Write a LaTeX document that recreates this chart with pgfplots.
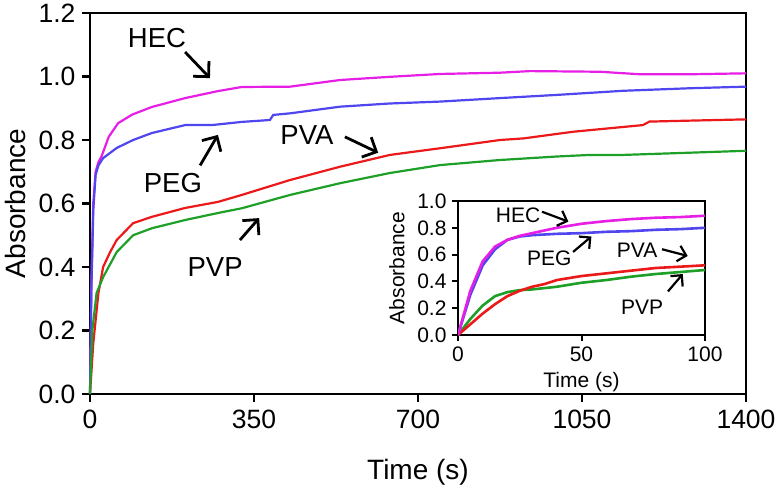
\documentclass[border=0pt]{standalone}
\usepackage{fontspec}
\setmainfont{Liberation Sans}
\usepackage{pgfplots}
\usepackage{pgfplotstable}
\pgfplotsset{compat=1.18}
\usetikzlibrary{arrows.meta}
\definecolor{hec}{RGB}{230,30,230}
\definecolor{peg}{RGB}{80,70,240}
\definecolor{pva}{RGB}{235,25,25}
\definecolor{pvp}{RGB}{30,160,40}

% main plot (0-1400 s)
\pgfplotstableread{
t v
0 0
3 0.35
7 0.60
12 0.70
18 0.73
25 0.75
40 0.81
60 0.853
90 0.88
132 0.904
203 0.932
273 0.954
324 0.967
427 0.968
534 0.989
640 0.999
747 1.008
875 1.012
939 1.017
1088 1.015
1174 1.007
1280 1.007
1400 1.01
}\hecM

\pgfplotstableread{
t v
0 0
3 0.33
7 0.58
12 0.69
18 0.72
28 0.743
57 0.775
92 0.80
132 0.822
203 0.847
260 0.847
324 0.857
384 0.863
391 0.879
427 0.884
534 0.905
640 0.915
747 0.921
875 0.932
996 0.942
1138 0.955
1280 0.963
1400 0.968
}\pegM

\pgfplotstableread{
t v
0 0
7 0.16
18 0.318
28 0.40
43 0.447
57 0.485
92 0.538
132 0.558
203 0.586
273 0.605
324 0.627
427 0.674
534 0.716
640 0.753
747 0.774
875 0.80
925 0.805
1031 0.826
1180 0.847
1194 0.858
1280 0.861
1400 0.865
}\pvaM

\pgfplotstableread{
t v
0 0
5 0.20
14 0.318
28 0.368
57 0.447
92 0.50
132 0.522
203 0.548
273 0.57
324 0.585
427 0.627
534 0.664
640 0.696
747 0.721
875 0.737
996 0.748
1067 0.753
1138 0.753
1280 0.76
1400 0.766
}\pvpM

% inset (0-100 s)
\pgfplotstableread{
t v
0 0
5 0.33
10 0.55
15 0.66
20 0.71
25 0.74
30 0.76
40 0.80
50 0.83
60 0.85
70 0.865
80 0.875
90 0.88
100 0.89
}\hecI

\pgfplotstableread{
t v
0 0
5 0.30
10 0.52
15 0.64
20 0.71
25 0.735
30 0.745
40 0.755
50 0.76
60 0.77
70 0.775
80 0.785
90 0.79
100 0.80
}\pegI

\pgfplotstableread{
t v
0 0
5 0.08
10 0.16
15 0.23
20 0.29
25 0.33
30 0.36
35 0.38
40 0.41
50 0.44
60 0.46
70 0.48
80 0.50
90 0.51
100 0.52
}\pvaI

\pgfplotstableread{
t v
0 0
5 0.12
10 0.22
15 0.29
20 0.32
25 0.335
30 0.34
40 0.36
50 0.39
60 0.41
70 0.435
80 0.455
90 0.47
100 0.485
}\pvpI

\begin{document}
\begin{tikzpicture}[x=1pt,y=1pt]
\useasboundingbox (-90,-94) rectangle (687,394);
\begin{axis}[
  at={(0pt,0pt)}, anchor=south west,
  scale only axis, width=656pt, height=381pt,
  xmin=0, xmax=1400, ymin=0, ymax=1.2,
  xtick={0,350,700,1050,1400},
  ytick={0,0.2,0.4,0.6,0.8,1.0,1.2},
  xticklabel style={/pgf/number format/set thousands separator={}},
  yticklabel style={/pgf/number format/fixed,/pgf/number format/fixed zerofill,/pgf/number format/precision=1},
  /pgf/number format/assume math mode=true,
  xtick pos=left, ytick pos=left,
  tick align=outside,
  major tick length=8pt,
  every tick/.style={black,line width=2.5pt},
  axis line style={line width=2.8pt},
  ticklabel style={font=\fontsize{26.5}{30}\selectfont},
  label style={font=\fontsize{28}{32}\selectfont},
  xlabel={Time (s)}, ylabel={Absorbance},
  xlabel style={at={(axis description cs:0.5,0)}, anchor=center, yshift=-78pt},
  ylabel style={at={(axis description cs:-0.113,0.5)}, anchor=center, inner sep=0pt},
  x tick label style={yshift=-4pt},
  y tick label style={xshift=-3pt},
  clip=false,
]
\addplot[hec, line width=2.2pt] table[x=t,y=v] {\hecM};
\addplot[peg, line width=2.2pt] table[x=t,y=v] {\pegM};
\addplot[pva, line width=2.2pt] table[x=t,y=v] {\pvaM};
\addplot[pvp, line width=2.2pt] table[x=t,y=v] {\pvpM};
\begin{scope}[font=\fontsize{27.5}{30}\selectfont]
\node at (axis cs:143,1.12) {HEC};
\node at (axis cs:177,0.665) {PEG};
\node at (axis cs:463,0.816) {PVA};
\node at (axis cs:267,0.40) {PVP};
\end{scope}
\begin{scope}[line width=2.8pt, -{Straight Barb[length=11pt,width=22pt,line width=2.8pt]}]
\draw (axis cs:203,1.077) -- (axis cs:256,0.995);
\draw (axis cs:235,0.72) -- (axis cs:273,0.816);
\draw (axis cs:544,0.81) -- (axis cs:615,0.76);
\draw (axis cs:320,0.485) -- (axis cs:361,0.554);
\end{scope}
\end{axis}
\begin{axis}[
  at={(368pt,59pt)}, anchor=south west,
  scale only axis, width=247pt, height=134pt,
  xmin=0, xmax=100, ymin=0, ymax=1.0,
  xtick={0,50,100},
  ytick={0,0.2,0.4,0.6,0.8,1.0},
  yticklabel style={/pgf/number format/fixed,/pgf/number format/fixed zerofill,/pgf/number format/precision=1},
  /pgf/number format/assume math mode=true,
  xtick pos=left, ytick pos=left,
  tick align=outside,
  major tick length=6pt,
  every tick/.style={black,line width=2pt},
  axis line style={line width=2.2pt},
  axis background/.style={fill=white},
  ticklabel style={font=\fontsize{21}{24}\selectfont},
  label style={font=\fontsize{21}{24}\selectfont},
  xlabel={Time (s)}, ylabel={Absorbance},
  xlabel style={at={(axis description cs:0.5,0)}, anchor=center, yshift=-47pt},
  ylabel style={at={(axis description cs:-0.247,0.5)}, anchor=center},
  x tick label style={yshift=-2pt},
  y tick label style={xshift=-2pt},
]
\addplot[pvp, line width=2.6pt] table[x=t,y=v] {\pvpI};
\addplot[pva, line width=2.6pt] table[x=t,y=v] {\pvaI};
\addplot[peg, line width=2.6pt] table[x=t,y=v] {\pegI};
\addplot[hec, line width=2.6pt] table[x=t,y=v] {\hecI};
\begin{scope}[font=\fontsize{21}{24}\selectfont]
\node at (axis cs:24.3,0.894) {HEC};
\node at (axis cs:37,0.57) {PEG};
\node at (axis cs:72.5,0.63) {PVA};
\node at (axis cs:74.5,0.21) {PVP};
\end{scope}
\begin{scope}[line width=2.2pt, -{Straight Barb[length=8pt,width=16pt,line width=2.2pt]}]
\draw (axis cs:34,0.92) -- (axis cs:44.7,0.846);
\draw (axis cs:46.6,0.62) -- (axis cs:54,0.735);
\draw (axis cs:82.6,0.64) -- (axis cs:93,0.59);
\draw (axis cs:85,0.325) -- (axis cs:91,0.455);
\end{scope}
\end{axis}
\end{tikzpicture}
\end{document}
